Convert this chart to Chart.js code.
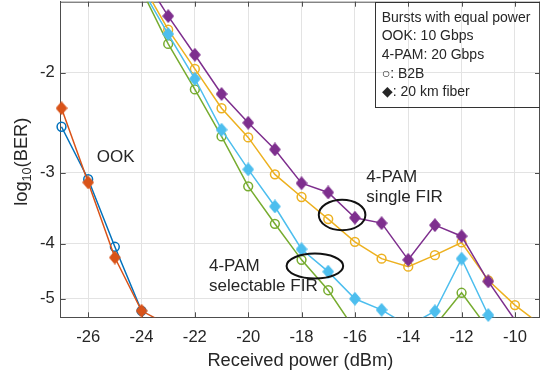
<!DOCTYPE html>
<html>
<head>
<meta charset="utf-8">
<script src="https://cdn.jsdelivr.net/npm/chart.js@4.4.1/dist/chart.umd.min.js"></script>
<style>
  html, body { margin: 0; padding: 0; background: #fff; }
  #wrap { width: 540px; height: 376px; }
</style>
</head>
<body>
<div id="wrap"><canvas id="ber" width="540" height="376"></canvas></div>
<script>
// received power (dBm)
const powerOok = [-27, -26, -25, -24, -23];
const powerPam = [-24, -23, -22, -21, -20, -19, -18, -17, -16, -15, -14, -13, -12, -11, -10, -9];

// log10(BER), null = no point
const ookB2b   = [-2.49, -3.08, -4.05, -5.25, null];
const ookFiber = [-2.31, -3.12, -4.23, -5.25, -5.56];
const pamB2bSingle   = [-1.39, -1.68, -1.97, -2.31, -2.60, -3.02, -3.31, -3.62, -3.97, -4.25, -4.39, -4.19, -3.98, -4.64, -5.13, -5.57];
const pamFiberSingle = [-1.34, -1.59, -1.86, -2.18, -2.45, -2.73, -3.13, -3.25, -3.60, -3.68, -4.27, -3.71, -3.88, -4.66, -5.45, null];
const pamB2bSelect   = [-1.43, -1.78, -2.14, -2.59, -3.17, -3.69, -4.27, -4.83, -5.67, null, null, -5.58, -4.88, -5.65, null, null];
const pamFiberSelect = [-1.42, -1.71, -2.05, -2.52, -2.96, -3.44, -4.09, -4.48, -5.00, -5.23, -5.58, -5.26, -4.25, -5.34, -5.61, null];

const xTicks = [-26, -24, -22, -20, -18, -16, -14, -12, -10];
const yTicks = [-2, -3, -4, -5];

const AXIS = '#4d4d4d';
const TEXT = '#262626';
const GRID = '#e3e3e3';
const FONT = "'Liberation Sans', Arial, Helvetica, sans-serif";
const Y_MIN = 1.5, Y_MAX = 5.39;   // |log10(BER)| shown, on a log(-log) scale
const X_MIN = -27.03, X_MAX = -9.06;

// filled diamond, a bit taller than wide like the MATLAB marker
function diamond(color) {
    const c = document.createElement('canvas');
    c.width = 12; c.height = 14;
    const g = c.getContext('2d');
    g.fillStyle = color; g.strokeStyle = color; g.lineWidth = 1;
    g.beginPath();
    g.moveTo(6, 0.6); g.lineTo(11.4, 7); g.lineTo(6, 13.4); g.lineTo(0.6, 7);
    g.closePath(); g.fill(); g.stroke();
    return c;
}

const series = [
    { x: powerOok, y: ookB2b,         color: '#0072BD', open: true },
    { x: powerOok, y: ookFiber,       color: '#D95319', open: false },
    { x: powerPam, y: pamB2bSingle,   color: '#EDB120', open: true },
    { x: powerPam, y: pamFiberSingle, color: '#7E2F8E', open: false },
    { x: powerPam, y: pamB2bSelect,   color: '#77AC30', open: true },
    { x: powerPam, y: pamFiberSelect, color: '#4DBEEE', open: false },
];

const inView = ctx => {
    const p = ctx.raw;
    return p && p.y != null && p.y >= Y_MIN && p.y <= Y_MAX && p.x >= X_MIN && p.x <= X_MAX;
};

const datasets = [];
series.forEach((s, k) => {
    const pts = s.x.map((x, i) => ({ x, y: s.y[i] == null ? null : -s.y[i] }));
    const order = (series.length - k) * 2;
    // line, clipped to the axes
    datasets.push({
        data: pts, borderColor: s.color, borderWidth: 1.5, pointRadius: 0,
        clip: 0, order: order + 1, spanGaps: false
    });
    // markers, not clipped (only those inside the limits)
    datasets.push({
        data: pts, showLine: false, clip: false, order: order,
        pointStyle: s.open ? 'circle' : diamond(s.color),
        pointRadius: ctx => inView(ctx) ? (s.open ? 4.4 : 6) : 0,
        pointBorderWidth: s.open ? 1.5 : 0,
        pointBorderColor: s.color,
        pointBackgroundColor: s.open ? 'rgba(0,0,0,0)' : s.color
    });
});

const TICK = 5;
const frame = {
    id: 'frame',
    beforeDatasetsDraw(chart) {
        const { ctx, chartArea: a, scales: { x, y } } = chart;
        ctx.save();
        ctx.strokeStyle = AXIS;
        ctx.lineWidth = 1;
        ctx.beginPath();
        ctx.moveTo(a.left, a.top + 0.5); ctx.lineTo(a.right, a.top + 0.5);
        ctx.moveTo(a.right - 0.5, a.top); ctx.lineTo(a.right - 0.5, a.bottom);
        x.ticks.forEach(t => {
            const px = Math.round(x.getPixelForValue(t.value)) + 0.5;
            ctx.moveTo(px, a.bottom); ctx.lineTo(px, a.bottom - TICK);
            ctx.moveTo(px, a.top); ctx.lineTo(px, a.top + TICK);
        });
        y.ticks.forEach(t => {
            const py = Math.round(y.getPixelForValue(t.value)) + 0.5;
            ctx.moveTo(a.left, py); ctx.lineTo(a.left + TICK, py);
            ctx.moveTo(a.right, py); ctx.lineTo(a.right - TICK, py);
        });
        ctx.stroke();
        ctx.restore();
    }
};

const notes = {
    id: 'notes',
    afterDatasetsDraw(chart) {
        const { ctx, scales: { x, y } } = chart;
        const px = v => x.getPixelForValue(v);
        const py = v => y.getPixelForValue(-v);
        ctx.save();
        ctx.fillStyle = TEXT;
        ctx.textBaseline = 'alphabetic';
        ctx.textAlign = 'left';

        ctx.font = `17px ${FONT}`;
        ctx.fillText('OOK', px(-25.68), py(-2.87));
        ctx.fillText('4-PAM', px(-15.57), py(-3.11));
        ctx.fillText('single FIR', px(-15.57), py(-3.11) + 20);
        ctx.fillText('4-PAM', px(-21.47), py(-4.46));
        ctx.fillText('selectable FIR', px(-21.47), py(-4.46) + 20);

        ctx.strokeStyle = '#111';
        ctx.lineWidth = 2;
        ctx.beginPath();
        ctx.ellipse(px(-16.48), py(-3.56), 23.3, 15.3, 0, 0, Math.PI * 2);
        ctx.stroke();
        ctx.beginPath();
        ctx.ellipse(px(-17.5), py(-4.38), 28.3, 12.5, 0, 0, Math.PI * 2);
        ctx.stroke();

        // text box, top right
        ctx.strokeStyle = '#333';
        ctx.lineWidth = 1;
        ctx.strokeRect(375.5, 2.5, 200, 105);
        ctx.font = `14px ${FONT}`;
        ['Bursts with equal power', 'OOK: 10 Gbps', '4-PAM: 20 Gbps', '\u25CB: B2B', '\u25C6: 20 km fiber']
            .forEach((t, i) => ctx.fillText(t, 381.7, 21.7 + i * 18.6));
        ctx.restore();
    }
};

const yTitle = {
    id: 'yTitle',
    afterDraw(chart) {
        const { ctx } = chart;
        const big = `18.3px ${FONT}`, small = `12.6px ${FONT}`;
        ctx.save();
        ctx.font = big;
        const w1 = ctx.measureText('log').width, w3 = ctx.measureText('(BER)').width;
        ctx.font = small;
        const w2 = ctx.measureText('10').width;
        const total = w1 + w2 + w3;
        ctx.translate(26.5, 161.7 + total / 2);
        ctx.rotate(-Math.PI / 2);
        ctx.fillStyle = TEXT;
        ctx.textBaseline = 'alphabetic';
        ctx.textAlign = 'left';
        ctx.font = big;
        ctx.fillText('log', 0, 0);
        ctx.font = small;
        ctx.fillText('10', w1, 4.5);
        ctx.font = big;
        ctx.fillText('(BER)', w1 + w2, 0);
        ctx.restore();
    }
};

new Chart(document.getElementById('ber'), {
    type: 'line',
    data: { datasets },
    plugins: [frame, notes, yTitle],
    options: {
        responsive: false,
        animation: false,
        events: [],
        layout: { autoPadding: false, padding: { top: 1.7, right: 0, left: 0, bottom: 0 } },
        plugins: { legend: { display: false }, tooltip: { enabled: false } },
        scales: {
            x: {
                type: 'linear', min: X_MIN, max: X_MAX,
                afterBuildTicks: s => { s.ticks = xTicks.map(v => ({ value: v })); },
                afterFit: s => { s.height = 58.7; s.paddingLeft = 0; s.paddingRight = 0; },
                grid: { color: GRID, drawTicks: false },
                border: { display: true, color: AXIS, width: 1 },
                ticks: {
                    color: TEXT, font: { family: FONT, size: 16.6 }, padding: 10,
                    maxRotation: 0, autoSkip: false, callback: v => String(v)
                },
                title: {
                    display: true, text: 'Received power (dBm)', color: TEXT,
                    font: { family: FONT, size: 18.3 }, padding: { top: 0, bottom: 4.5 }
                }
            },
            y: {
                type: 'logarithmic', reverse: true, min: Y_MIN, max: Y_MAX,
                afterBuildTicks: s => { s.ticks = yTicks.map(v => ({ value: -v })); },
                afterFit: s => { s.width = 60.7; s.paddingTop = 0; s.paddingBottom = 0; },
                grid: { color: GRID, drawTicks: false },
                border: { display: true, color: AXIS, width: 1 },
                ticks: {
                    color: TEXT, font: { family: FONT, size: 16.6 }, padding: 6,
                    autoSkip: false, callback: v => String(-v)
                }
            }
        }
    }
});
</script>
</body>
</html>
